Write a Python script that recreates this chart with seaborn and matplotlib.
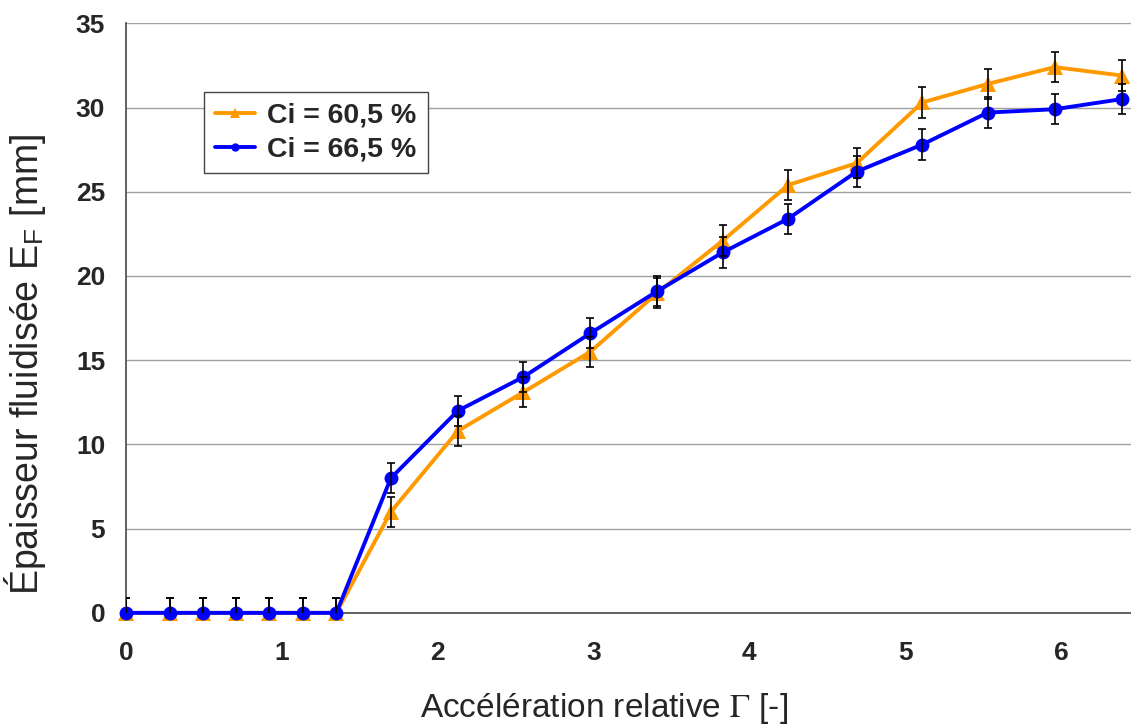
import numpy as np
import pandas as pd
import seaborn as sns
import matplotlib.pyplot as plt

# values
gamma = [0, 0.285, 0.497, 0.708, 0.92, 1.135, 1.35, 1.70, 2.13, 2.55,
         2.98, 3.41, 3.83, 4.25, 4.69, 5.11, 5.53, 5.96, 6.39]
ef_605 = [0, 0, 0, 0, 0, 0, 0, 6.0, 10.8, 13.1,
          15.5, 19.0, 22.1, 25.4, 26.7, 30.3, 31.4, 32.4, 31.9]
ef_665 = [0, 0, 0, 0, 0, 0, 0, 8.0, 12.0, 14.0,
          16.6, 19.1, 21.4, 23.4, 26.2, 27.8, 29.7, 29.9, 30.5]
err = 0.9
labels = ["Ci = 60,5 %", "Ci = 66,5 %"]
colors = ["#FF9900", "#0000FF"]
markers = ["^", "o"]

df = pd.DataFrame({
    "gamma": gamma * 2,
    "ef": ef_605 + ef_665,
    "serie": [labels[0]] * len(gamma) + [labels[1]] * len(gamma),
})

sns.set_style("white")
plt.rcParams['font.family'] = ['Liberation Sans', 'DejaVu Sans']
plt.rcParams['mathtext.fontset'] = 'stix'

fig = plt.figure(figsize=(11.31, 7.24), dpi=100)
ax = fig.add_axes([0.1114, 0.1535, 0.8886, 0.8143])

sns.lineplot(data=df, x="gamma", y="ef", hue="serie", style="serie",
             palette=dict(zip(labels, colors)),
             markers=dict(zip(labels, markers)), dashes=False,
             linewidth=2.8, markersize=10, markeredgewidth=0,
             ax=ax, clip_on=False, zorder=3)
for line in ax.lines:
    if line.get_marker() == "^":
        line.set_markersize(12)

for vals in (ef_605, ef_665):
    ax.errorbar(gamma, vals, yerr=err, fmt="none", ecolor="black",
                elinewidth=1.2, capsize=3.2, capthick=1.2, zorder=4)

ax.set_xlim(0, 6.45)
ax.set_ylim(0, 35)
ax.set_xticks(range(0, 7))
ax.set_yticks(range(0, 36, 5))
ax.yaxis.grid(True, color="#a0a0a0", linewidth=1)
ax.set_axisbelow(True)
sns.despine(ax=ax)
for side in ("left", "bottom"):
    ax.spines[side].set_color("#555555")
    ax.spines[side].set_linewidth(1.3)
ax.tick_params(axis="both", direction="out", length=7, width=1.2,
               color="#555555", labelsize=19)
ax.tick_params(axis="x", pad=13)
ax.tick_params(axis="y", pad=8)
for t in ax.get_xticklabels() + ax.get_yticklabels():
    t.set_fontweight("bold")

ax.set_xlabel(r"Accélération relative $\Gamma$ [-]", fontsize=24)
ax.set_ylabel(r"Épaisseur fluidisée E$_{\mathregular{F}}$ [mm]", fontsize=27)
ax.xaxis.set_label_coords(0.476, -0.132)
ax.yaxis.set_label_coords(-0.078, 0.422)

handles, _ = ax.get_legend_handles_labels()
leg = ax.legend(handles, labels, loc="upper left",
                bbox_to_anchor=(0.0776, 0.884), borderaxespad=0,
                frameon=True, fancybox=False,
                framealpha=1, edgecolor="#444444",
                prop={"weight": "bold", "size": 20.5},
                handlelength=1.4, handletextpad=0.45, borderpad=0.38,
                labelspacing=0.28, markerscale=0.6)
leg.get_frame().set_linewidth(1.0)

fig.savefig("out.png", dpi=100)
